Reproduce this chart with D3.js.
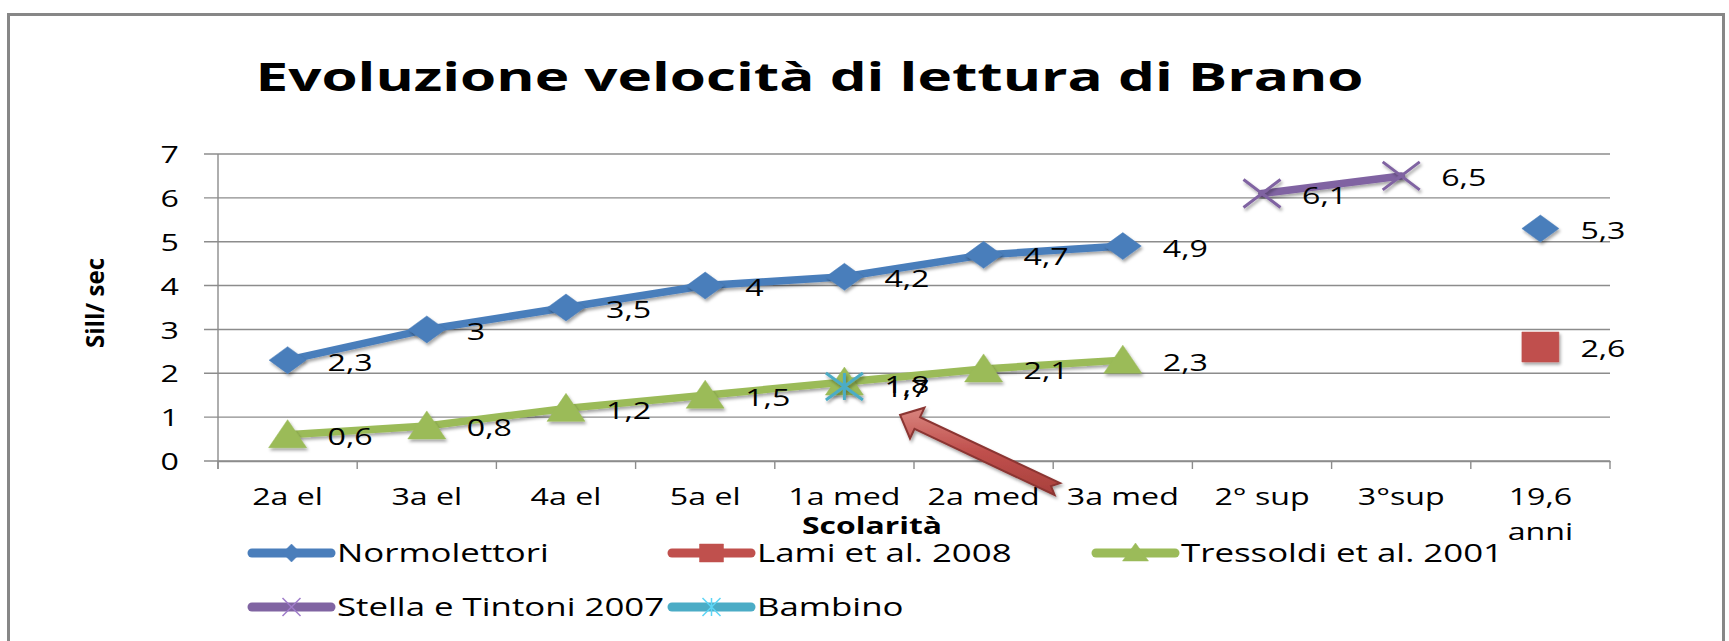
<!DOCTYPE html>
<html>
<head>
<meta charset="utf-8">
<script src="https://cdn.jsdelivr.net/npm/d3@7"></script>
<style>
  html, body { margin: 0; padding: 0; background: #fff; }
  svg { display: block; }
  text { font-family: "Open Sans", "Noto Sans", sans-serif; fill: #000; }
</style>
</head>
<body>
<svg id="chart" width="1729" height="641"></svg>
<script>
// ---------- data ----------
const categories = ["2a el", "3a el", "4a el", "5a el", "1a med", "2a med", "3a med", "2° sup", "3°sup", "19,6 anni"];
const tickLabels = [["2a el"], ["3a el"], ["4a el"], ["5a el"], ["1a med"], ["2a med"], ["3a med"], ["2° sup"], ["3°sup"], ["19,6", "anni"]];
const yTicks = [0, 1, 2, 3, 4, 5, 6, 7];

const seriesNames = ["Normolettori", "Lami et al. 2008", "Tressoldi et al. 2001", "Stella e Tintoni 2007", "Bambino"];
const normolettori = [2.3, 3, 3.5, 4, 4.2, 4.7, 4.9, null, null, 5.3];
const lami        = [null, null, null, null, null, null, null, null, null, 2.6];
const tressoldi   = [0.6, 0.8, 1.2, 1.5, 1.8, 2.1, 2.3, null, null, null];
const stella      = [null, null, null, null, null, null, null, 6.1, 6.5, null];
const bambino     = [null, null, null, null, 1.7, null, null, null, null, null];
const seriesValues = [normolettori, lami, tressoldi, stella, bambino];
const seriesColors = ["#4A7EBB", "#C0504D", "#9BBB59", "#8064A2", "#4BACC6"];
const seriesMarkers = ["diamond", "square", "triangle", "x", "asterisk"];

const titleText = "Evoluzione velocità di lettura di Brano";
const yTitle = "Sill/ sec";
const xTitle = "Scolarità";

// annotation arrow (in category-band units / value units)
const arrowTail = { band: 6.03, value: -0.64 };
const arrowTip  = { band: 4.90, value: 1.05 };

// ---------- layout ----------
const svg = d3.select("#chart");
const SX = 1.34; // horizontal stretch of the original picture
const plot = { left: 218, right: 1610, top: 154, bottom: 461 };

const x = d3.scaleBand().domain(categories).range([plot.left, plot.right]).padding(0);
const y = d3.scaleLinear().domain([0, 7]).range([plot.bottom, plot.top]);
const cx = c => x(c) + x.bandwidth() / 2;

// defs: shadow + arrow gradient
const defs = svg.append("defs");
const sh = defs.append("filter").attr("id", "shadow").attr("x", "-30%").attr("y", "-30%").attr("width", "160%").attr("height", "160%");
sh.append("feDropShadow").attr("dx", 1.5).attr("dy", 2.5).attr("stdDeviation", 1.6)
  .attr("flood-color", "#000").attr("flood-opacity", 0.35);
const grad = defs.append("linearGradient").attr("id", "arrowGrad").attr("x1", 0).attr("y1", 0).attr("x2", 0).attr("y2", 1);
grad.append("stop").attr("offset", "0%").attr("stop-color", "#d9857f");
grad.append("stop").attr("offset", "50%").attr("stop-color", "#c0504d");
grad.append("stop").attr("offset", "100%").attr("stop-color", "#a8403c");

// outer border
svg.append("rect").attr("x", 8.5).attr("y", 14.5).attr("width", 1715).attr("height", 700)
  .attr("fill", "none").attr("stroke", "#878787").attr("stroke-width", 3);

// title
svg.append("text").attr("x", 809.5).attr("y", 91).attr("text-anchor", "middle")
  .attr("font-size", 38.5).attr("font-weight", 700)
  .attr("textLength", 1108).attr("lengthAdjust", "spacingAndGlyphs")
  .text(titleText);

// gridlines (extend left past the axis as tick marks)
svg.append("g").selectAll("line").data(yTicks).join("line")
  .attr("x1", plot.left - 14).attr("x2", plot.right)
  .attr("y1", d => y(d)).attr("y2", d => y(d))
  .attr("stroke", "#8c8c8c").attr("stroke-width", 1.4);

// y axis
const yAxis = svg.append("g").attr("transform", `translate(${plot.left},0)`)
  .call(d3.axisLeft(y).tickValues(yTicks).tickSize(0).tickFormat(d3.format("d")));
yAxis.select(".domain").remove();
yAxis.selectAll("text")
  .attr("x", 0).attr("dy", "0.36em")
  .attr("transform", `translate(-39,0) scale(${SX},1)`)
  .attr("text-anchor", "end").attr("font-size", 24)
  .style("font-family", '"Open Sans", sans-serif').attr("fill", "#000");
svg.append("line").attr("x1", plot.left).attr("x2", plot.left)
  .attr("y1", plot.top).attr("y2", plot.bottom + 8)
  .attr("stroke", "#8c8c8c").attr("stroke-width", 1.4);

// x axis (ticks at category boundaries)
const xAxis = svg.append("g").attr("transform", `translate(0,${plot.bottom})`)
  .call(d3.axisBottom(x).tickSize(0).tickFormat(""));
xAxis.select(".domain").attr("stroke", "#8c8c8c").attr("stroke-width", 1.4);
const boundaries = categories.map(c => x(c)).concat([plot.right]);
svg.append("g").selectAll("line").data(boundaries).join("line")
  .attr("x1", d => d).attr("x2", d => d)
  .attr("y1", plot.bottom).attr("y2", plot.bottom + 8)
  .attr("stroke", "#8c8c8c").attr("stroke-width", 1.4);
xAxis.selectAll(".tick").each(function (d, i) {
  const g = d3.select(this);
  g.selectAll("text").remove();
  const lines = tickLabels[i];
  lines.forEach((ln, j) => {
    g.append("text")
      .attr("transform", `translate(0,${44 + j * 35}) scale(${SX},1)`)
      .attr("text-anchor", "middle").attr("font-size", 24)
      .style("font-family", '"Open Sans", sans-serif').attr("fill", "#000")
      .text(ln);
  });
});

// axis titles
svg.append("text")
  .attr("transform", "translate(104,303) rotate(-90)")
  .attr("text-anchor", "middle").attr("font-size", 25).attr("font-weight", 700)
  .attr("textLength", 90).attr("lengthAdjust", "spacingAndGlyphs")
  .text(yTitle);
svg.append("text")
  .attr("x", 872).attr("y", 534).attr("text-anchor", "middle")
  .attr("font-size", 24).attr("font-weight", 700)
  .attr("textLength", 140).attr("lengthAdjust", "spacingAndGlyphs")
  .text(xTitle);

// marker shapes
function markerPath(type, w, h) {
  const a = w / 2, b = h / 2;
  switch (type) {
    case "diamond": return `M0,${-b}L${a},0L0,${b}L${-a},0Z`;
    case "square": return `M${-a},${-b}L${a},${-b}L${a},${b}L${-a},${b}Z`;
    case "triangle": return `M0,${-b - 1}L${a},${b - 1}L${-a},${b - 1}Z`;
    case "x": return `M${-a},${-b}L${a},${b}M${-a},${b}L${a},${-b}`;
    case "asterisk": return `M${-a},${-b}L${a},${b}M${-a},${b}L${a},${-b}M0,${-b}L0,${b}`;
  }
}
const filled = t => t === "diamond" || t === "square" || t === "triangle";
const markerSize = { diamond: [37, 27], square: [37, 30], triangle: [38, 28], x: [37, 28], asterisk: [37, 27] };

// series lines
const line = d3.line().defined(d => d.v != null).x(d => cx(d.c)).y(d => y(d.v));
const seriesData = seriesNames.map((name, i) => ({
  name, color: seriesColors[i], marker: seriesMarkers[i],
  pts: categories.map((c, j) => ({ c, v: seriesValues[i][j] }))
}));

const gSeries = svg.append("g");
seriesData.forEach(s => {
  gSeries.append("path").attr("d", line(s.pts))
    .attr("fill", "none").attr("stroke", s.color).attr("stroke-width", 7.5)
    .attr("stroke-linejoin", "round").attr("stroke-linecap", "round")
    .attr("filter", "url(#shadow)");
});
seriesData.forEach(s => {
  const [w, h] = markerSize[s.marker];
  gSeries.append("g").selectAll("path").data(s.pts.filter(d => d.v != null)).join("path")
    .attr("transform", d => `translate(${cx(d.c)},${y(d.v)})`)
    .attr("d", markerPath(s.marker, w, h))
    .attr("fill", filled(s.marker) ? s.color : "none")
    .attr("stroke", s.color).attr("stroke-width", filled(s.marker) ? 0.5 : 3)
    .attr("filter", "url(#shadow)");
});

// data labels
const fmt = v => String(v).replace(".", ",");
const gLabels = svg.append("g");
seriesData.forEach(s => {
  gLabels.append("g").selectAll("text").data(s.pts.filter(d => d.v != null)).join("text")
    .attr("transform", d => `translate(${cx(d.c) + 40},${y(d.v) + 10.5}) scale(${SX},1)`)
    .attr("font-size", 24)
    .text(d => fmt(d.v));
});

// annotation arrow
(function () {
  const bx = u => plot.left + u * x.bandwidth();
  const tx = bx(arrowTail.band), ty = y(arrowTail.value);
  const px = bx(arrowTip.band), py = y(arrowTip.value);
  const dx = px - tx, dy = py - ty, L = Math.hypot(dx, dy);
  const ux = dx / L, uy = dy / L, nx = -uy, ny = ux;
  const shaftHalf = 6.5, headHalf = 17, headLen = 19, notch = 7;
  const P = (along, across) => [tx + ux * along + nx * across, ty + uy * along + ny * across];
  const pts = [
    P(0, shaftHalf), P(L - headLen, shaftHalf), P(L - headLen, headHalf), P(L, 0),
    P(L - headLen, -headHalf), P(L - headLen, -shaftHalf), P(0, -shaftHalf), P(notch, 0)
  ];
  svg.append("path").attr("d", "M" + pts.map(p => p.join(",")).join("L") + "Z")
    .attr("fill", "url(#arrowGrad)").attr("stroke", "#8b3532").attr("stroke-width", 2)
    .attr("stroke-linejoin", "miter").attr("filter", "url(#shadow)");
})();

// legend
const legendCols = [248, 668, 1092];
const legendRows = [553, 607];
const legendLineLen = 87;
const gLeg = svg.append("g");
seriesData.forEach((s, i) => {
  const lx = legendCols[i % 3], ly = legendRows[Math.floor(i / 3)];
  const g = gLeg.append("g").attr("transform", `translate(${lx},${ly})`);
  g.append("line").attr("x1", 4).attr("x2", legendLineLen - 4).attr("y1", 0).attr("y2", 0)
    .attr("stroke", s.color).attr("stroke-width", 9).attr("stroke-linecap", "round");
  const lw = s.marker === "square" ? 24 : (s.marker === "triangle" ? 26 : 18);
  const lh = 18;
  g.append("path").attr("transform", `translate(${legendLineLen / 2},0)`)
    .attr("d", markerPath(s.marker, lw, lh))
    .attr("fill", filled(s.marker) ? s.color : "none")
    .attr("stroke", filled(s.marker) ? s.color : d3.color(s.color).brighter(0.6))
    .attr("stroke-width", filled(s.marker) ? 0.5 : 1.5);
  g.append("text").attr("transform", `translate(${legendLineLen + 2},9.3) scale(${SX},1)`)
    .attr("font-size", 26).text(s.name);
});
</script>
</body>
</html>
